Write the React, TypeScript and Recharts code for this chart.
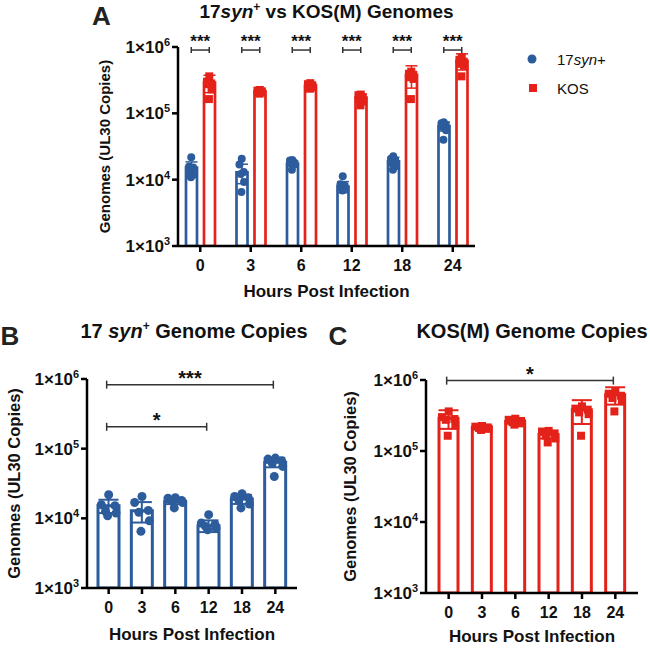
import React from 'react';
import { ComposedChart, Bar, Scatter, XAxis, YAxis, ErrorBar, ReferenceLine } from 'recharts';

// hours post infection
const hours = ['0', '3', '6', '12', '18', '24'];

// 17syn+ genomes (UL30 copies)
const synMean = [15200, 12900, 17500, 7850, 18900, 64000];
const synErr = [3300, 4200, 1500, 1500, 2800, 10000];
const synPts = [
  [21800, 15700, 15200, 12600, 11900, 10900],
  [20600, 16900, 13000, 12200, 9200, 6500],
  [19800, 19500, 18100, 17600, 16900, 14100],
  [11300, 8550, 8200, 7650, 7200, 6850],
  [22500, 20600, 19800, 18000, 16000, 14100],
  [73300, 70900, 67000, 62100, 55600, 39900],
];

// KOS(M) genomes
const kosMean = [290000, 215000, 260000, 172000, 380000, 620000];
const kosErr = [85000, 8000, 18000, 22000, 140000, 170000];
const kosPts = [
  [361000, 300000, 282000, 275000, 230000, 164000],
  [225000, 220000, 215000, 210000, 205000, 198000],
  [285000, 275000, 265000, 255000, 245000, 235000],
  [192000, 188000, 175000, 165000, 150000, 132000],
  [425000, 395000, 382000, 350000, 330000, 164000],
  [692000, 641000, 600000, 557000, 520000, 361000],
];

const yTicks = [1e3, 1e4, 1e5, 1e6];

// significance brackets
const sigA = hours.map((h) => ({ x: h, y: 9e5, label: '***' }));
const sigB = [
  { from: '0', to: '24', y: 8.3e5, label: '***' },
  { from: '0', to: '12', y: 2.06e5, label: '*' },
];
const sigC = [{ from: '0', to: '24', y: 9.8e5, label: '*' }];

const BLUE = '#2D5C9C';
const RED = '#E42219';
const FONT = '"Liberation Sans", Arial, Helvetica, sans-serif';
const jitter = [0, -0.35, 0.3, -0.15, 0.35, -0.05];
const reps = [0, 1, 2, 3, 4, 5];

const rows = hours.map((h, i) => {
  const row: any = { hour: h, syn: synMean[i], kos: kosMean[i], synErr: synErr[i], kosErr: kosErr[i] };
  synPts[i].forEach((v, j) => (row['s' + j] = v));
  kosPts[i].forEach((v, j) => (row['k' + j] = v));
  return row;
});

const PowTick = (props: any) => {
  const { x, y, payload } = props;
  const exp = Math.round(Math.log10(payload.value));
  return (
    <text x={x} y={y + 6} textAnchor="end" fontFamily={FONT} fontWeight="bold" fontSize={17} fill="#111">
      1×10<tspan dy={-7} fontSize={11}>{exp}</tspan>
    </text>
  );
};

const circleShape = (color: string, dx: number, r: number) => (p: any) =>
  p.cx == null ? <g /> : <circle cx={p.cx + dx} cy={p.cy} r={r} fill={color} />;

const squareShape = (color: string, dx: number, s: number) => (p: any) =>
  p.cx == null ? <g /> : <rect x={p.cx + dx - s / 2} y={p.cy - s / 2} width={s} height={s} fill={color} />;

const Bracket = ({ x1, x2, y, text, size, lift, cap }: any) => (
  <g>
    <line x1={x1} x2={x2} y1={y} y2={y} stroke="#333" strokeWidth={1.5} />
    <line x1={x1} x2={x1} y1={y - cap} y2={y + cap} stroke="#333" strokeWidth={1.5} />
    <line x1={x2} x2={x2} y1={y - cap} y2={y + cap} stroke="#333" strokeWidth={1.5} />
    <text x={(x1 + x2) / 2} y={y - lift} textAnchor="middle" fontFamily={FONT} fontWeight="bold" fontSize={size} fill="#111">
      {text}
    </text>
  </g>
);

const axisStyle = { stroke: '#000', strokeWidth: 2.5 };
const xTick = { fill: '#111', fontSize: 16, fontWeight: 'bold', fontFamily: FONT };
const labelStyle = { fontFamily: FONT, fontWeight: 'bold', fill: '#111' };

const yAxisProps = (width: number, labelSize: number) => ({
  scale: 'log' as const,
  type: 'number' as const,
  domain: [1e3, 1e6],
  ticks: yTicks,
  allowDataOverflow: true,
  width,
  tick: <PowTick />,
  tickSize: 6,
  tickMargin: 2,
  axisLine: axisStyle,
  tickLine: axisStyle,
  label: {
    value: 'Genomes (UL30 Copies)',
    angle: -90,
    position: 'insideLeft' as const,
    offset: 5,
    style: { ...labelStyle, fontSize: labelSize, textAnchor: 'middle' },
  },
});

const xAxisProps = (height: number, pad: number, labelOffset: number) => ({
  dataKey: 'hour',
  type: 'category' as const,
  height,
  padding: { left: pad, right: pad },
  tickSize: 6,
  tickMargin: 8,
  axisLine: axisStyle,
  tickLine: axisStyle,
  tick: xTick,
  label: {
    value: 'Hours Post Infection',
    position: 'insideBottom' as const,
    offset: labelOffset,
    style: { ...labelStyle, fontSize: 17 },
  },
});

const BAR_A = 11;
const GAP_A = 7;
const OFF_A = (BAR_A + GAP_A) / 2;

const PanelA = () => (
  <ComposedChart width={500} height={310} data={rows} margin={{ top: 47, right: 25, bottom: 13, left: 100 }} barGap={GAP_A}>
    <XAxis {...xAxisProps(51, -3, 0)} />
    <YAxis {...yAxisProps(78, 15)} />
    <Bar dataKey="syn" fill="#fff" stroke={BLUE} strokeWidth={2.7} barSize={BAR_A} isAnimationActive={false}>
      <ErrorBar dataKey="synErr" width={6} strokeWidth={1.5} stroke={BLUE} direction="y" />
    </Bar>
    <Bar dataKey="kos" fill="#fff" stroke={RED} strokeWidth={2.7} barSize={BAR_A} isAnimationActive={false}>
      <ErrorBar dataKey="kosErr" width={6} strokeWidth={1.5} stroke={RED} direction="y" />
    </Bar>
    {reps.map((j) => (
      <Scatter key={'s' + j} dataKey={'s' + j} isAnimationActive={false} shape={circleShape(BLUE, -OFF_A + jitter[j] * BAR_A * 0.6, 4)} />
    ))}
    {reps.map((j) => (
      <Scatter key={'k' + j} dataKey={'k' + j} isAnimationActive={false} shape={squareShape(RED, OFF_A + jitter[j] * BAR_A * 0.6, 8)} />
    ))}
    {sigA.map((s) => (
      <ReferenceLine
        key={s.x}
        segment={[{ x: s.x, y: s.y }, { x: s.x, y: s.y }]}
        shape={(p: any) => <Bracket x1={p.x1 - OFF_A} x2={p.x1 + OFF_A} y={p.y1} text={s.label} size={17} lift={3} cap={3} />}
      />
    ))}
  </ComposedChart>
);

const PanelSingle = ({ dataKey, errKey, ptPrefix, color, square, sig, width, height, margin, yWidth, xHeight, pad, barSize, labelOffset }: any) => (
  <ComposedChart width={width} height={height} data={rows} margin={margin}>
    <XAxis {...xAxisProps(xHeight, pad, labelOffset)} />
    <YAxis {...yAxisProps(yWidth, 16.5)} />
    <Bar dataKey={dataKey} fill="#fff" stroke={color} strokeWidth={3} barSize={barSize} isAnimationActive={false}>
      <ErrorBar dataKey={errKey} width={10} strokeWidth={2} stroke={color} direction="y" />
    </Bar>
    {reps.map((j) => (
      <Scatter
        key={ptPrefix + j}
        dataKey={ptPrefix + j}
        isAnimationActive={false}
        shape={square ? squareShape(color, jitter[j] * barSize, 8) : circleShape(color, jitter[j] * barSize, 4.5)}
      />
    ))}
    {sig.map((s: any) => (
      <ReferenceLine
        key={s.from + s.to}
        segment={[{ x: s.from, y: s.y }, { x: s.to, y: s.y }]}
        shape={(p: any) => <Bracket x1={p.x1 - 2} x2={p.x2 - 2} y={p.y1} text={s.label} size={20} lift={0} cap={4} />}
      />
    ))}
  </ComposedChart>
);

export default function App() {
  return (
    <div style={{ position: 'absolute', left: 0, top: 0, width: 650, height: 648, background: '#fff', fontFamily: FONT }}>
      <div style={{ position: 'absolute', left: 0, top: 0 }}>
        <PanelA />
      </div>
      <div style={{ position: 'absolute', left: 0, top: 320 }}>
        <PanelSingle
          dataKey="syn" errKey="synErr" ptPrefix="s" color={BLUE} square={false} sig={sigB}
          width={320} height={328} margin={{ top: 59, right: 23, bottom: 8, left: 9 }}
          yWidth={78} xHeight={52} pad={5} barSize={21} labelOffset={0}
        />
      </div>
      <div style={{ position: 'absolute', left: 330, top: 320 }}>
        <PanelSingle
          dataKey="kos" errKey="kosErr" ptPrefix="k" color={RED} square sig={sigC}
          width={320} height={328} margin={{ top: 60, right: 12, bottom: 2, left: 15 }}
          yWidth={81} xHeight={53} pad={6} barSize={19} labelOffset={4}
        />
      </div>
      <svg width={650} height={648} style={{ position: 'absolute', left: 0, top: 0, pointerEvents: 'none' }} fontFamily={FONT}>
        <text x={101.5} y={25} textAnchor="middle" fontSize={26} fontWeight="bold" fill="#222">A</text>
        <text x={10} y={345} textAnchor="middle" fontSize={26} fontWeight="bold" fill="#222">B</text>
        <text x={338} y={345} textAnchor="middle" fontSize={26} fontWeight="bold" fill="#222">C</text>
        <text x={326.5} y={18} textAnchor="middle" fontSize={19} fontWeight="bold" fill="#111">
          17<tspan fontStyle="italic">syn</tspan>
          <tspan dy={-7} fontSize={12}>+</tspan>
          <tspan dy={7}> vs KOS(M) Genomes</tspan>
        </text>
        <text x={194} y={338} textAnchor="middle" fontSize={20} fontWeight="bold" fill="#111">
          17 <tspan fontStyle="italic">syn</tspan>
          <tspan dy={-8} fontSize={12}>+</tspan>
          <tspan dy={8}> Genome Copies</tspan>
        </text>
        <text x={532} y={338} textAnchor="middle" fontSize={20} fontWeight="bold" fill="#111">KOS(M) Genome Copies</text>
        <circle cx={532} cy={59} r={4.5} fill={BLUE} />
        <text x={557} y={64.5} fontSize={15} fill="#111">
          17<tspan fontStyle="italic">syn</tspan>+
        </text>
        <rect x={529} y={84} width={8} height={8} fill={RED} />
        <text x={557} y={93.5} fontSize={15} fill="#111">KOS</text>
      </svg>
    </div>
  );
}
